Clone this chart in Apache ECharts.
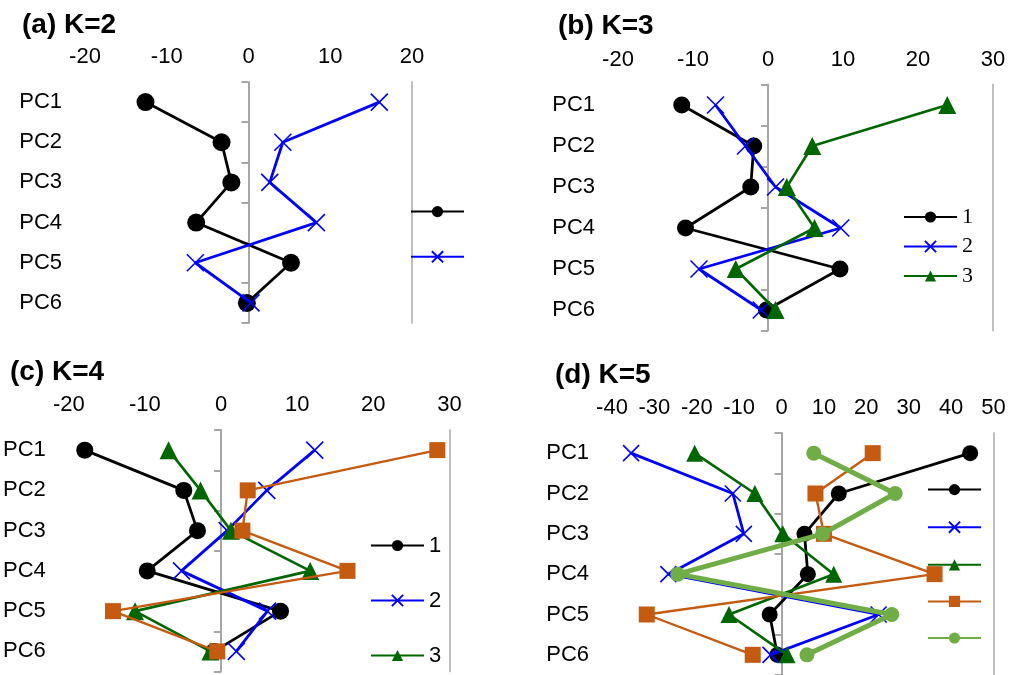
<!DOCTYPE html>
<html>
<head>
<meta charset="utf-8">
<script src="https://cdn.jsdelivr.net/npm/echarts@6/dist/echarts.min.js"></script>
<style>html,body{margin:0;padding:0;background:#fff}#c{width:1009px;height:675px}</style>
</head>
<body>
<div id="c"></div>
<script>
// ---- data ----
const categories = ['PC1', 'PC2', 'PC3', 'PC4', 'PC5', 'PC6'];
const panelTitles = ['(a) K=2', '(b) K=3', '(c) K=4', '(d) K=5'];
const xRanges = [[-20, 20], [-20, 30], [-20, 30], [-40, 50]];
const xInterval = 10;

const a1 = [-12.6, -3.3, -2.1, -6.4, 5.2, -0.2];
const a2 = [16.0, 4.2, 2.6, 8.3, -6.5, 0.3];

const b1 = [-11.5, -1.9, -2.3, -11.0, 9.6, -0.2];
const b2 = [-7.0, -3.0, 1.0, 9.7, -9.2, -0.9];
const b3 = [23.9, 5.9, 2.5, 6.2, -4.3, 1.0];

const c1 = [-17.9, -4.9, -3.1, -9.7, 7.8, -0.9];
const c2 = [12.3, 6.0, 0.8, -5.2, 6.1, 2.0];
const c3 = [-6.9, -2.7, 1.3, 11.7, -11.3, -1.4];
const c4 = [28.4, 3.5, 2.8, 16.6, -14.2, -0.5];

const d1 = [44.5, 13.5, 5.4, 6.2, -2.8, -1.0];
const d2 = [-35.5, -11.5, -8.9, -26.7, 22.9, -2.6];
const d3 = [-20.5, -6.3, 0.3, 12.3, -12.4, 1.3];
const d4 = [21.5, 8.0, 10.0, 36.1, -31.8, -6.8];
const d5 = [7.6, 26.8, 9.7, -24.5, 26.0, 6.0];

const panelSeries = [
  [['a1', a1], ['a2', a2]],
  [['b1', b1], ['b2', b2], ['b3', b3]],
  [['c1', c1], ['c2', c2], ['c3', c3], ['c4', c4]],
  [['d1', d1], ['d2', d2], ['d3', d3], ['d4', d4], ['d5', d5]]
];

// ---- styles ----
const SANS = 'Liberation Sans, Arial, sans-serif';
const SERIF = 'Liberation Serif, Times New Roman, serif';
const crossPath = 'path://M0,0L10,10M10,0L0,10';
const styles = [
  { color: '#000000', width: 2.8, symbol: 'circle' },
  { color: '#0000FF', width: 2.8, symbol: crossPath },
  { color: '#006600', width: 2.6, symbol: 'triangle' },
  { color: '#C55A11', width: 2.4, symbol: 'rect' },
  { color: '#70AD47', width: 5, symbol: 'circle' }
];
const symbolScale = [[18, 17], [17, 17, 18], [17, 17, 18, 16], [16, 16, 17, 16, 15]];

const grids = [
  { left: 85, top: 82, width: 327, height: 241 },
  { left: 618, top: 84.5, width: 375, height: 246 },
  { left: 67, top: 430, width: 382.5, height: 241.5 },
  { left: 612, top: 433, width: 381.5, height: 246 }
];
const titlePos = [[22, 11], [558, 12], [10, 358], [555, 361]];

const legends = [
  { data: ['a1', 'a2'], left: 410, top: 206, itemGap: 33, text: false, font: SANS },
  { data: ['b1', 'b2', 'b3'], left: 903, top: 206, itemGap: 7.5, text: true, font: SERIF },
  { data: ['c1', 'c2', 'c3', 'c4'], left: 370, top: 534.5, itemGap: 33, text: true, font: SANS },
  { data: ['d1', 'd2', 'd3', 'd4', 'd5'], left: 927, top: 484, itemGap: 25.4, text: false, font: SANS }
];

const option = {
  animation: false,
  backgroundColor: '#ffffff',
  title: panelTitles.map((t, i) => ({
    text: t, left: titlePos[i][0], top: titlePos[i][1], padding: 0,
    textStyle: { fontFamily: SANS, fontSize: 28, fontWeight: 'bold', color: '#000' }
  })),
  grid: grids.map(g => Object.assign({ containLabel: false }, g)),
  xAxis: xRanges.map((r, i) => ({
    type: 'value', gridIndex: i, position: 'top', min: r[0], max: r[1], interval: xInterval,
    axisLine: { show: false, onZero: false }, axisTick: { show: false }, splitLine: { show: false },
    axisLabel: { fontFamily: SANS, fontSize: 22, color: '#000', margin: 14 }
  })),
  yAxis: [],
  legend: legends.map(l => ({
    data: l.data, left: l.left, top: l.top, height: 300, orient: 'vertical', padding: 0,
    itemWidth: 53, itemHeight: 14, itemGap: l.itemGap, selectedMode: false,
    formatter: l.text ? (n => n.slice(1)) : (() => ''),
    textStyle: { fontFamily: l.font, fontSize: l.text ? 22 : 10, lineHeight: l.text ? 21 : 14, color: '#000' }
  })),
  series: []
};

grids.forEach((g, i) => {
  // label axis
  option.yAxis.push({
    type: 'category', gridIndex: i, data: categories, inverse: true, position: 'left',
    axisLine: { show: false, onZero: false }, axisTick: { show: false }, splitLine: { show: false },
    axisLabel: { fontFamily: SANS, fontSize: 22, color: '#000', margin: 23 }
  });
  // zero axis with ticks
  option.yAxis.push({
    type: 'category', gridIndex: i, data: categories, inverse: true, position: 'left',
    axisLine: { show: true, onZero: true, lineStyle: { color: '#A6A6A6', width: 2 } },
    axisTick: { show: true, length: 7, lineStyle: { color: '#A6A6A6', width: 2 } },
    axisLabel: { show: false }, splitLine: { show: false }
  });
  // right border
  option.yAxis.push({
    type: 'category', gridIndex: i, data: categories, inverse: true, position: 'right',
    axisLine: { show: true, onZero: false, lineStyle: { color: '#BFBFBF', width: 2 } },
    axisTick: { show: false }, axisLabel: { show: false }, splitLine: { show: false }
  });
  panelSeries[i].forEach((s, k) => {
    const st = styles[k];
    const isCross = k === 1;
    option.series.push({
      name: s[0], type: 'line', xAxisIndex: i, yAxisIndex: i * 3,
      data: s[1].map((v, j) => [v, categories[j]]),
      symbol: st.symbol, symbolSize: symbolScale[i][k],
      lineStyle: { color: st.color, width: st.width },
      itemStyle: isCross
        ? { color: st.color, borderColor: st.color, borderWidth: 1.6 }
        : { color: st.color, borderWidth: 0 },
      emphasis: { disabled: true },
      z: 2 + k
    });
  });
});

const chart = echarts.init(document.getElementById('c'), null, { renderer: 'canvas' });
chart.setOption(option);
</script>
</body>
</html>
